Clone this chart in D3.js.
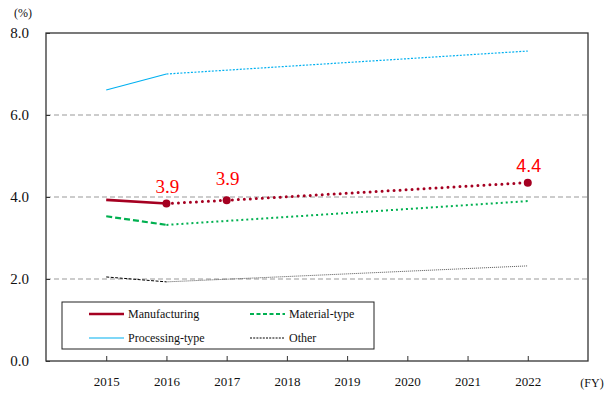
<!DOCTYPE html>
<html>
<head>
<meta charset="utf-8">
<script src="https://cdn.jsdelivr.net/npm/d3@7"></script>
<style>
  body { margin: 0; background: #fff; }
  svg { display: block; }
</style>
</head>
<body>
<svg id="chart" width="613" height="394"></svg>
<script>
// Fiscal years on the category axis
const years = ["2015", "2016", "2017", "2018", "2019", "2020", "2021", "2022"];
const yTicks = [0, 2, 4, 6, 8];

// Manufacturing: actuals 2015–2016, then plan values
const manufActual = [["2015", 3.93], ["2016", 3.84]];
const manufPlan = [["2016", 3.84], ["2017", 3.92], ["2022", 4.35]];
const manufLabels = [["2016", 3.84, "3.9"], ["2017", 3.92, "3.9"], ["2022", 4.35, "4.4"]];

const materialActual = [["2015", 3.53], ["2016", 3.32]];
const materialPlan = [["2016", 3.32], ["2022", 3.90]];

const processingActual = [["2015", 6.61], ["2016", 7.00]];
const processingPlan = [["2016", 7.00], ["2022", 7.56]];

const otherActual = [["2015", 2.05], ["2016", 1.93]];
const otherPlan = [["2016", 1.93], ["2022", 2.32]];

const SERIF = "Liberation Serif";
const SANS = "Liberation Sans";

const svg = d3.select("#chart");
const plotLeft = 46, plotRight = 588, plotTop = 33, plotBottom = 361;

const x = d3.scalePoint().domain(years).range([plotLeft, plotRight]).padding(1);
const y = d3.scaleLinear().domain([0, 8]).range([plotBottom, plotTop]);

const line = d3.line().x(d => x(d[0])).y(d => y(d[1]));

// Dashed horizontal gridlines
svg.append("g").selectAll("line").data([2, 4, 6]).join("line")
  .attr("x1", plotLeft).attr("x2", plotRight)
  .attr("y1", d => y(d)).attr("y2", d => y(d))
  .attr("stroke", "#999").attr("stroke-width", 1).attr("stroke-dasharray", "5,3");

// Plot frame
svg.append("rect").attr("x", plotLeft).attr("y", plotTop)
  .attr("width", plotRight - plotLeft).attr("height", plotBottom - plotTop)
  .attr("fill", "none").attr("stroke", "#333").attr("stroke-width", 1.3);

// X axis ticks and labels
const xAxis = d3.axisBottom(x).tickSize(-5).tickPadding(16);
const gx = svg.append("g").attr("transform", `translate(0,${plotBottom})`).call(xAxis);
gx.select(".domain").remove();
gx.selectAll(".tick line").attr("stroke", "#333");
gx.selectAll(".tick text").attr("font-size", 13).attr("fill", "#111")
  .attr("font-family", SERIF);

// Y axis labels with short inward ticks
const yAxis = d3.axisLeft(y).tickValues(yTicks).tickFormat(d3.format(".1f")).tickSize(-4).tickPadding(17);
const gy = svg.append("g").attr("transform", `translate(${plotLeft},0)`).call(yAxis);
gy.select(".domain").remove();
gy.selectAll(".tick line").attr("stroke", "#333");
gy.selectAll(".tick text").attr("font-size", 15).attr("fill", "#111")
  .attr("font-family", SERIF);

svg.append("text").attr("x", 23).attr("y", 17).attr("text-anchor", "middle")
  .attr("font-family", SERIF).attr("font-size", 12).attr("fill", "#111").text("(%)");
svg.append("text").attr("x", 592).attr("y", 387).attr("text-anchor", "middle")
  .attr("font-family", SERIF).attr("font-size", 12).attr("fill", "#111").text("(FY)");

const colors = { manuf: "#a50021", material: "#00b050", processing: "#00b0f0", other: "#000" };

// Other
svg.append("path").datum(otherActual).attr("d", line).attr("fill", "none")
  .attr("stroke", colors.other).attr("stroke-width", 1).attr("stroke-dasharray", "3,1.5");
svg.append("path").datum(otherPlan).attr("d", line).attr("fill", "none")
  .attr("stroke", "#555").attr("stroke-width", 1).attr("stroke-dasharray", "1,1");

// Processing-type
svg.append("path").datum(processingActual).attr("d", line).attr("fill", "none")
  .attr("stroke", colors.processing).attr("stroke-width", 1.2);
svg.append("path").datum(processingPlan).attr("d", line).attr("fill", "none")
  .attr("stroke", colors.processing).attr("stroke-width", 1.2).attr("stroke-dasharray", "2,1.5");

// Material-type
svg.append("path").datum(materialActual).attr("d", line).attr("fill", "none")
  .attr("stroke", colors.material).attr("stroke-width", 2.2).attr("stroke-dasharray", "6,3");
svg.append("path").datum(materialPlan).attr("d", line).attr("fill", "none")
  .attr("stroke", colors.material).attr("stroke-width", 2).attr("stroke-dasharray", "2,3");

// Manufacturing
svg.append("path").datum(manufActual).attr("d", line).attr("fill", "none")
  .attr("stroke", colors.manuf).attr("stroke-width", 2.6);
svg.append("path").datum(manufPlan).attr("d", line).attr("fill", "none")
  .attr("stroke", colors.manuf).attr("stroke-width", 3).attr("stroke-linecap", "round")
  .attr("stroke-dasharray", "0,6");
svg.append("g").selectAll("circle").data(manufPlan).join("circle")
  .attr("cx", d => x(d[0])).attr("cy", d => y(d[1])).attr("r", 4)
  .attr("fill", colors.manuf);

// Value labels (the 2022 plan figure is set in a sans face)
svg.append("g").selectAll("text").data(manufLabels).join("text")
  .attr("x", d => x(d[0]) + 1).attr("y", d => y(d[1]) - 11 - (d[0] === "2017" ? 4 : 0))
  .attr("text-anchor", "middle")
  .attr("font-family", d => d[0] === "2022" ? SANS : SERIF)
  .attr("font-size", d => d[0] === "2022" ? 18 : 19).attr("fill", "#ff0000")
  .text(d => d[2]);

// Legend
const lg = svg.append("g");
lg.append("rect").attr("x", 62).attr("y", 302).attr("width", 312).attr("height", 47)
  .attr("fill", "#fff").attr("stroke", "#222").attr("stroke-width", 1);
const legendItems = [
  { name: "Manufacturing", x: 89, y: 314, color: colors.manuf, w: 2.6, dash: null },
  { name: "Material-type", x: 250, y: 314, color: colors.material, w: 2.2, dash: "4,2.5" },
  { name: "Processing-type", x: 89, y: 338, color: colors.processing, w: 1.2, dash: null },
  { name: "Other", x: 250, y: 338, color: "#000", w: 1, dash: "2,1.2" }
];
legendItems.forEach(it => {
  lg.append("line").attr("x1", it.x).attr("x2", it.x + 35).attr("y1", it.y).attr("y2", it.y)
    .attr("stroke", it.color).attr("stroke-width", it.w)
    .attr("stroke-dasharray", it.dash);
  lg.append("text").attr("x", it.x + 39).attr("y", it.y + 4)
    .attr("font-family", SERIF).attr("font-size", 12)
    .attr("fill", "#111").text(it.name);
});
</script>
</body>
</html>
